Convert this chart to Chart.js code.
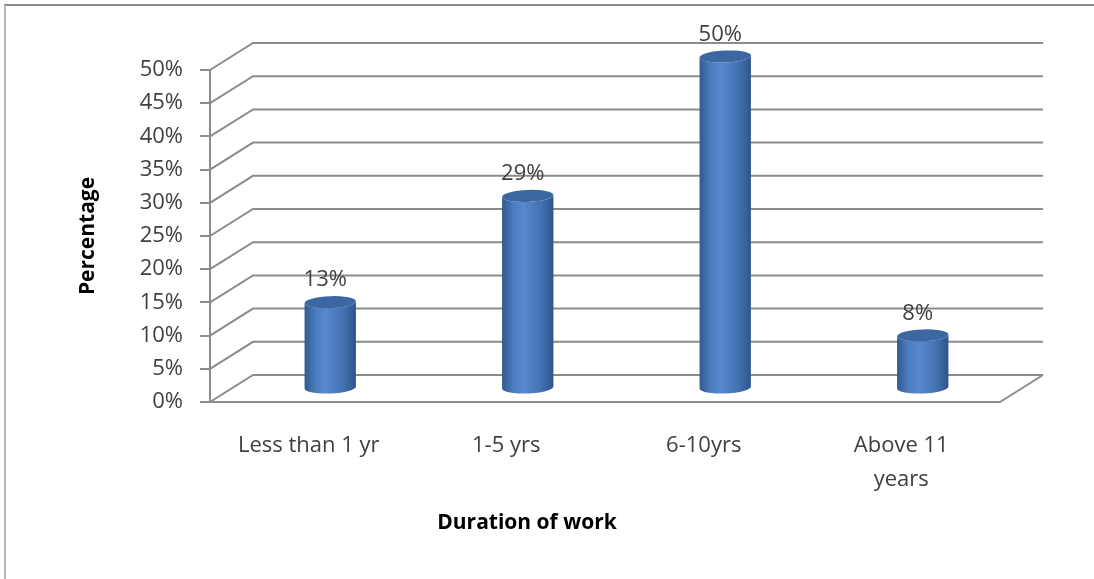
<!DOCTYPE html>
<html>
<head>
<meta charset="utf-8">
<script src="https://cdn.jsdelivr.net/npm/chart.js@4.4.0/dist/chart.umd.min.js"></script>
<style>
    html, body { margin: 0; padding: 0; background: #fff; }
    #wrap { width: 1094px; height: 579px; }
</style>
</head>
<body>
<div id="wrap"><canvas id="chart_cyl" width="1094" height="579"></canvas></div>
<script>
const categories = ['Less than 1 yr', '1-5 yrs', '6-10yrs', ['Above 11', 'years']];
const percentValues = [13, 29, 50, 8];
const yTicksMax = 50;
const yTicksStep = 5;

const FONT = "'Open Sans', 'Noto Sans', sans-serif";
const GRID = '#8c8c8c';
const DEPTH_X = 43;
const DEPTH_Y = -27;

// back wall + floor, drawn before the cylinders
const wallPlugin = {
    id: 'wall3d',
    beforeDraw(chart) {
        const ctx = chart.ctx;
        ctx.save();
        ctx.fillStyle = '#fff';
        ctx.fillRect(0, 0, chart.width, chart.height);
        // outer frame
        ctx.strokeStyle = '#8a8a8a';
        ctx.lineWidth = 2;
        ctx.beginPath();
        ctx.moveTo(4, 5);
        ctx.lineTo(chart.width, 5);
        ctx.stroke();
        ctx.strokeStyle = '#b8b8b8';
        ctx.beginPath();
        ctx.moveTo(5, 5);
        ctx.lineTo(5, chart.height);
        ctx.stroke();
        ctx.restore();
    },
    beforeDatasetsDraw(chart) {
        const ctx = chart.ctx;
        const y = chart.scales.y;
        const { left, right, bottom } = chart.chartArea;
        ctx.save();
        ctx.strokeStyle = GRID;
        ctx.lineWidth = 2;
        for (let v = 0; v <= yTicksMax; v += yTicksStep) {
            const py = y.getPixelForValue(v);
            ctx.beginPath();
            ctx.moveTo(left, py);
            ctx.lineTo(left + DEPTH_X, py + DEPTH_Y);
            ctx.lineTo(right + DEPTH_X, py + DEPTH_Y);
            ctx.stroke();
        }
        // floor front edge
        ctx.beginPath();
        ctx.moveTo(left, bottom);
        ctx.lineTo(right, bottom);
        ctx.lineTo(right + DEPTH_X, bottom + DEPTH_Y);
        ctx.stroke();
        ctx.restore();
    }
};

// cylinders + value labels, placed from the bar elements
const cylinderPlugin = {
    id: 'cylinders',
    afterDatasetsDraw(chart) {
        const ctx = chart.ctx;
        const meta = chart.getDatasetMeta(0);
        ctx.save();
        meta.data.forEach((bar, i) => {
            const cx = bar.x + DEPTH_X / 2;
            const top = bar.y + DEPTH_Y / 2;
            const base = bar.base + DEPTH_Y / 2;
            const rx = bar.width / 2;
            const ry = 6;

            const g = ctx.createLinearGradient(cx - rx, 0, cx + rx, 0);
            g.addColorStop(0, '#30598f');
            g.addColorStop(0.22, '#4c7dc0');
            g.addColorStop(0.42, '#5789cf');
            g.addColorStop(0.75, '#4572b2');
            g.addColorStop(1, '#2d558c');
            ctx.fillStyle = g;
            ctx.beginPath();
            ctx.moveTo(cx - rx, top);
            ctx.lineTo(cx - rx, base);
            ctx.ellipse(cx, base, rx, ry, -0.04, Math.PI, 0, true);
            ctx.lineTo(cx + rx, top);
            ctx.ellipse(cx, top, rx, ry, -0.04, 0, Math.PI, false);
            ctx.closePath();
            ctx.fill();

            ctx.fillStyle = '#3d67a2';
            ctx.beginPath();
            ctx.ellipse(cx, top, rx, ry, -0.04, 0, Math.PI * 2);
            ctx.fill();

            ctx.fillStyle = '#404040';
            ctx.font = '22px ' + FONT;
            ctx.textAlign = 'center';
            ctx.textBaseline = 'middle';
            ctx.fillText(percentValues[i] + '%', cx - 5, top - 22);
        });

        // x axis title
        ctx.fillStyle = '#000';
        ctx.font = 'bold 21px ' + FONT;
        ctx.textAlign = 'center';
        ctx.fillText('Duration of work', 527, 523);
        ctx.restore();
    }
};

document.addEventListener('DOMContentLoaded', () => {
    new Chart(document.querySelector('#chart_cyl'), {
        type: 'bar',
        data: {
            labels: categories,
            datasets: [{
                label: 'Percentage',
                data: percentValues,
                backgroundColor: 'rgba(0,0,0,0)',
                borderWidth: 0,
                barPercentage: 0.26,
                categoryPercentage: 1
            }]
        },
        options: {
            responsive: false,
            animation: false,
            events: [],
            layout: {
                padding: { left: 10, right: 94, top: 70, bottom: 0 }
            },
            plugins: {
                legend: { display: false },
                tooltip: { enabled: false }
            },
            scales: {
                x: {
                    afterFit(scale) { scale.height = 177; },
                    grid: { display: false },
                    border: { display: false },
                    ticks: {
                        color: '#404040',
                        padding: 19,
                        maxRotation: 0,
                        font: { family: FONT, size: 22, lineHeight: 1.55 }
                    }
                },
                y: {
                    min: 0,
                    max: yTicksMax,
                    afterFit(scale) { scale.width = 200; },
                    grid: {
                        drawOnChartArea: false,
                        drawTicks: true,
                        tickLength: 10,
                        color: GRID,
                        lineWidth: 2
                    },
                    border: { display: true, color: GRID, width: 2 },
                    ticks: {
                        stepSize: yTicksStep,
                        padding: 17,
                        color: '#404040',
                        font: { family: FONT, size: 22 },
                        callback: (v) => v + '%'
                    },
                    title: {
                        display: true,
                        text: 'Percentage',
                        color: '#000',
                        padding: { top: 65, bottom: 0 },
                        font: { family: FONT, size: 21, weight: 'bold', lineHeight: 1.2 }
                    }
                }
            }
        },
        plugins: [wallPlugin, cylinderPlugin]
    });
});
</script>
</body>
</html>
